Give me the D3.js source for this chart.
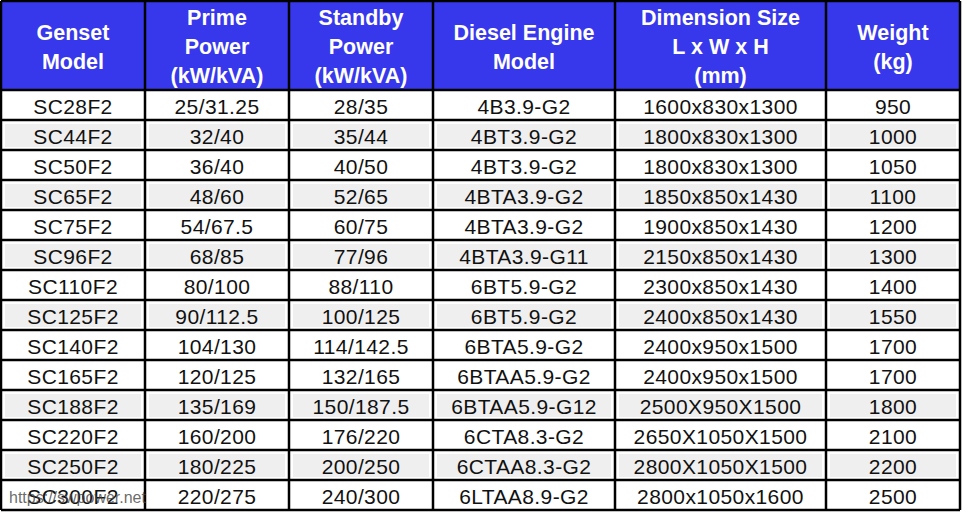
<!DOCTYPE html>
<html>
<head>
<meta charset="utf-8">
<script src="https://cdn.jsdelivr.net/npm/d3@7"></script>
<style>
  body { margin: 0; background: #fff; }
  svg { display: block; }
</style>
</head>
<body>
<svg id="chart" width="962" height="512"></svg>
<script>
// header labels, one array of lines per column
const headers = [
  ["Genset", "Model"],
  ["Prime", "Power", "(kW/kVA)"],
  ["Standby", "Power", "(kW/kVA)"],
  ["Diesel Engine", "Model"],
  ["Dimension Size", "L x W x H", "(mm)"],
  ["Weight", "(kg)"]
];

const models = ["SC28F2", "SC44F2", "SC50F2", "SC65F2", "SC75F2", "SC96F2", "SC110F2",
  "SC125F2", "SC140F2", "SC165F2", "SC188F2", "SC220F2", "SC250F2", "SC300F2"];
const primePower = ["25/31.25", "32/40", "36/40", "48/60", "54/67.5", "68/85", "80/100",
  "90/112.5", "104/130", "120/125", "135/169", "160/200", "180/225", "220/275"];
const standbyPower = ["28/35", "35/44", "40/50", "52/65", "60/75", "77/96", "88/110",
  "100/125", "114/142.5", "132/165", "150/187.5", "176/220", "200/250", "240/300"];
const engines = ["4B3.9-G2", "4BT3.9-G2", "4BT3.9-G2", "4BTA3.9-G2", "4BTA3.9-G2", "4BTA3.9-G11", "6BT5.9-G2",
  "6BT5.9-G2", "6BTA5.9-G2", "6BTAA5.9-G2", "6BTAA5.9-G12", "6CTA8.3-G2", "6CTAA8.3-G2", "6LTAA8.9-G2"];
const dimensions = ["1600x830x1300", "1800x830x1300", "1800x830x1300", "1850x850x1430", "1900x850x1430",
  "2150x850x1430", "2300x850x1430", "2400x850x1430", "2400x950x1500", "2400x950x1500",
  "2500X950X1500", "2650X1050X1500", "2800X1050X1500", "2800x1050x1600"];
const weights = [950, 1000, 1050, 1100, 1200, 1300, 1400, 1550, 1700, 1700, 1800, 2100, 2200, 2500];
// rows that carry the light grey shading
const shadedRows = ["SC44F2", "SC65F2", "SC96F2", "SC125F2", "SC188F2", "SC250F2"];

const svg = d3.select("#chart");
const colEdges = [1, 145, 289, 433, 615, 826, 960];
const headerTop = 1, headerBottom = 90, tableBottom = 510;
const font = "'Liberation Sans', Arial, sans-serif";

const columns = [models, primePower, standbyPower, engines, dimensions, weights];

const x = d3.scaleOrdinal().domain(d3.range(6)).range(colEdges.slice(0, 6));
const colW = i => colEdges[i + 1] - colEdges[i];
const y = d3.scaleBand().domain(models).range([headerBottom, tableBottom]);

// header background
svg.append("rect")
  .attr("x", colEdges[0]).attr("y", headerTop)
  .attr("width", colEdges[6] - colEdges[0]).attr("height", headerBottom - headerTop)
  .attr("fill", "#3737ec");

// header text
const hdr = svg.selectAll("g.hdr").data(headers).enter().append("g").classed("hdr", true);
hdr.each(function (lines, i) {
  const cx = x(i) + colW(i) / 2;
  const lh = 29;
  const mid = (headerTop + headerBottom) / 2 + 1;
  d3.select(this).selectAll("text").data(lines).enter().append("text")
    .attr("x", cx)
    .attr("y", (d, k) => mid + (k - (lines.length - 1) / 2) * lh)
    .attr("dy", "0.36em")
    .attr("text-anchor", "middle")
    .attr("fill", "#fff")
    .attr("font-family", font)
    .attr("font-weight", "bold")
    .attr("font-size", 21.5)
    .text(d => d);
});

// row shading
svg.selectAll("g.shade").data(shadedRows).enter().append("g").classed("shade", true)
  .each(function (m) {
    d3.select(this).selectAll("rect").data(d3.range(6)).enter().append("rect")
      .attr("x", i => x(i) + 4)
      .attr("y", y(m) + 4)
      .attr("width", i => colW(i) - 8)
      .attr("height", y.bandwidth() - 7)
      .attr("fill", "#efefef");
  });

// body text
const rows = svg.selectAll("g.row").data(models).enter().append("g").classed("row", true);
rows.each(function (m, r) {
  d3.select(this).selectAll("text").data(columns.map(c => c[r])).enter().append("text")
    .attr("x", (d, i) => x(i) + colW(i) / 2)
    .attr("y", y(m) + y.bandwidth() / 2 + 1)
    .attr("dy", "0.36em")
    .attr("text-anchor", "middle")
    .attr("fill", "#111")
    .attr("font-family", font)
    .attr("font-size", 21)
    .attr("letter-spacing", 0.4)
    .text(d => d);
});

// grid lines
const grid = svg.append("g").attr("stroke", "#000").attr("stroke-width", 2.5);
grid.selectAll("line.h").data(models).enter().append("line")
  .attr("x1", colEdges[0]).attr("x2", colEdges[6])
  .attr("y1", d => y(d)).attr("y2", d => y(d));
grid.append("line").attr("x1", colEdges[0]).attr("x2", colEdges[6])
  .attr("y1", tableBottom).attr("y2", tableBottom);
grid.append("line").attr("x1", colEdges[0]).attr("x2", colEdges[6])
  .attr("y1", headerTop).attr("y2", headerTop);
grid.selectAll("line.v").data(colEdges).enter().append("line")
  .attr("x1", d => d).attr("x2", d => d)
  .attr("y1", headerTop).attr("y2", tableBottom);

// watermark
svg.append("text")
  .attr("x", 9).attr("y", 503)
  .attr("fill", "#444")
  .attr("fill-opacity", 0.8)
  .attr("font-family", font)
  .attr("font-size", 16)
  .text("https://swpower.net");
</script>
</body>
</html>
